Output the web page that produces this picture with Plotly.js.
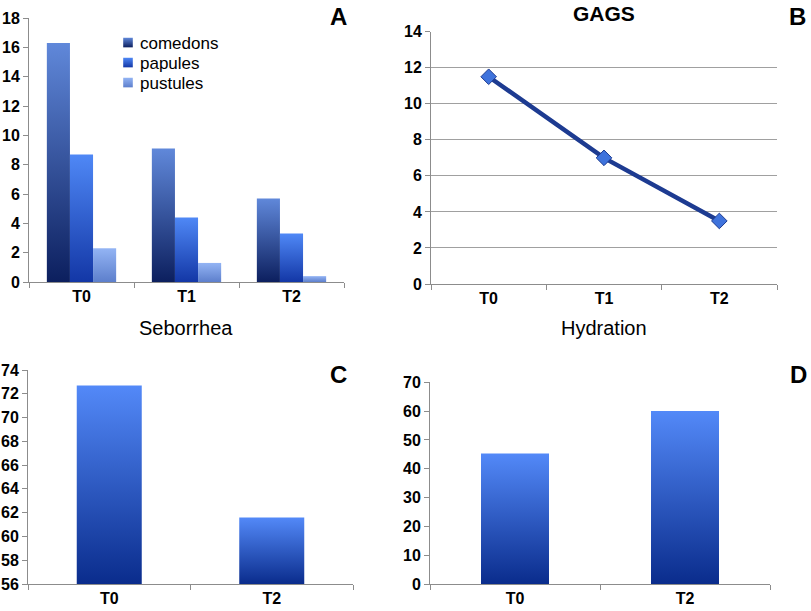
<!DOCTYPE html>
<html>
<head>
<meta charset="utf-8">
<script src="https://cdn.plot.ly/plotly-3.0.1.min.js"></script>
<style>
  html, body { margin: 0; padding: 0; background: #fff; }
  #chart { width: 811px; height: 611px; }
</style>
</head>
<body>
<div id="chart"></div>
<script>
// Panel A - lesions
const timesA = ['T0', 'T1', 'T2'];
const comedons = [16.3, 9.1, 5.7];
const papules = [8.7, 4.4, 3.3];
const pustules = [2.3, 1.3, 0.4];

// Panel B - GAGS
const timesB = ['T0', 'T1', 'T2'];
const gags = [11.5, 7.0, 3.5];

// Panel C - Seborrhea
const timesC = ['T0', 'T2'];
const seborrhea = [72.7, 61.6];

// Panel D - Hydration
const timesD = ['T0', 'T2'];
const hydration = [45.3, 60.0];

// gradients: [bottom, top]
const grads = {
  gCom: ['#0c1f5e', '#6088da'],
  gPap: ['#1337a6', '#4f88f6'],
  gPus: ['#5d7fcc', '#93b4f4'],
  gBar: ['#0a2c8c', '#5389f8']
};

const W = 811, H = 611;
const px = (a, b) => [a / W, b / W];
const py = (top, bottom) => [1 - bottom / H, 1 - top / H];

const FONT = 'Liberation Sans, Arial, sans-serif';
const axisCommon = {
  showline: true, linecolor: '#8c8c8c', linewidth: 1,
  ticks: 'outside', ticklen: 5, tickcolor: '#8c8c8c',
  tickfont: { family: FONT, size: 16, color: '#000', weight: 'bold' },
  zeroline: false, showgrid: false, fixedrange: true
};

const traces = [
  { type: 'bar', x: timesA, y: comedons, name: 'comedons', xaxis: 'x', yaxis: 'y', legend: 'legend',
    marker: { color: grads.gCom[1], line: { width: 0 } }, meta: 'gCom' },
  { type: 'bar', x: timesA, y: papules, name: 'papules', xaxis: 'x', yaxis: 'y', legend: 'legend2',
    marker: { color: grads.gPap[1], line: { width: 0 } }, meta: 'gPap' },
  { type: 'bar', x: timesA, y: pustules, name: 'pustules', xaxis: 'x', yaxis: 'y', legend: 'legend3',
    marker: { color: grads.gPus[1], line: { width: 0 } }, meta: 'gPus' },
  { type: 'scatter', mode: 'lines+markers', x: timesB, y: gags, xaxis: 'x2', yaxis: 'y2',
    showlegend: false,
    line: { color: '#1d3b91', width: 4.5 },
    marker: { symbol: 'diamond', size: 12, color: '#3f73dc', line: { color: '#1d3b91', width: 1 } } },
  { type: 'bar', x: timesC, y: seborrhea, xaxis: 'x3', yaxis: 'y3', width: 0.4, showlegend: false,
    marker: { color: grads.gBar[1], line: { width: 0 } }, meta: 'gBar' },
  { type: 'bar', x: timesD, y: hydration, xaxis: 'x4', yaxis: 'y4', width: 0.4, showlegend: false,
    marker: { color: grads.gBar[1], line: { width: 0 } }, meta: 'gBar' }
];

function legendAt(yMid) {
  return {
    x: 100 / W, xanchor: 'left', y: 1 - yMid / H, yanchor: 'middle',
    bgcolor: 'rgba(0,0,0,0)', borderwidth: 0,
    font: { family: FONT, size: 17, color: '#000' }
  };
}

const layout = {
  width: W, height: H,
  margin: { l: 0, r: 0, t: 0, b: 0 },
  paper_bgcolor: '#fff', plot_bgcolor: 'rgba(0,0,0,0)',
  font: { family: FONT, color: '#000' },
  barmode: 'group', bargap: 0.34, bargroupgap: 0,
  showlegend: true,
  legend: legendAt(43),
  legend2: legendAt(63),
  legend3: legendAt(83),
  xaxis: Object.assign({}, axisCommon, { domain: px(29, 344), anchor: 'y', tickson: 'boundaries' }),
  yaxis: Object.assign({}, axisCommon, { domain: py(18, 282), anchor: 'x', range: [0, 18], dtick: 2 }),
  xaxis2: Object.assign({}, axisCommon, { domain: px(431, 777), anchor: 'y2', tickson: 'boundaries',
    range: [-0.5, 2.5] }),
  yaxis2: Object.assign({}, axisCommon, { domain: py(31.7, 284), anchor: 'x2', range: [0, 14], dtick: 2,
    showgrid: true, gridcolor: '#a0a0a0', gridwidth: 1 }),
  xaxis3: Object.assign({}, axisCommon, { domain: px(28, 353), anchor: 'y3', tickson: 'boundaries' }),
  yaxis3: Object.assign({}, axisCommon, { domain: py(370, 584), anchor: 'x3', range: [56, 74], dtick: 2 }),
  xaxis4: Object.assign({}, axisCommon, { domain: px(430, 770), anchor: 'y4', tickson: 'boundaries' }),
  yaxis4: Object.assign({}, axisCommon, { domain: py(382.3, 584), anchor: 'x4', range: [0, 70], dtick: 10 }),
  annotations: [
    { text: 'A', x: 338 / W, y: 1 - 16 / H },
    { text: 'B', x: 797 / W, y: 1 - 16 / H },
    { text: 'C', x: 338 / W, y: 1 - 374 / H },
    { text: 'D', x: 798 / W, y: 1 - 374 / H }
  ].map(a => Object.assign(a, {
    xref: 'paper', yref: 'paper', showarrow: false, xanchor: 'center', yanchor: 'middle',
    font: { family: FONT, size: 24, color: '#000', weight: 'bold' }
  })).concat([
    { text: 'GAGS', x: 604 / W, y: 1 - 13 / H, xref: 'paper', yref: 'paper', showarrow: false,
      xanchor: 'center', yanchor: 'middle', font: { family: FONT, size: 21, color: '#000', weight: 'bold' } },
    { text: 'Seborrhea', x: 186 / W, y: 1 - 328 / H, xref: 'paper', yref: 'paper', showarrow: false,
      xanchor: 'center', yanchor: 'middle', font: { family: FONT, size: 20, color: '#000' } },
    { text: 'Hydration', x: 604 / W, y: 1 - 328 / H, xref: 'paper', yref: 'paper', showarrow: false,
      xanchor: 'center', yanchor: 'middle', font: { family: FONT, size: 20, color: '#000' } }
  ])
};

const svgNS = 'http://www.w3.org/2000/svg';

function makeGradient(defs, id, cols, user, y1, y2) {
  const lg = document.createElementNS(svgNS, 'linearGradient');
  lg.setAttribute('id', id);
  if (user) {
    lg.setAttribute('gradientUnits', 'userSpaceOnUse');
    lg.setAttribute('x1', 0); lg.setAttribute('x2', 0);
    lg.setAttribute('y1', y1); lg.setAttribute('y2', y2);
  } else {
    lg.setAttribute('x1', '0'); lg.setAttribute('y1', '1');
    lg.setAttribute('x2', '0'); lg.setAttribute('y2', '0');
  }
  [[0, cols[0]], [1, cols[1]]].forEach(function (s) {
    const st = document.createElementNS(svgNS, 'stop');
    st.setAttribute('offset', s[0]);
    st.setAttribute('stop-color', s[1]);
    lg.appendChild(st);
  });
  defs.appendChild(lg);
}

function addGradients(gd) {
  const defs = gd.querySelector('svg.main-svg defs');
  const full = gd._fullLayout;
  let n = 0;
  // bars: gradient from visible bottom of the plot to the top of each bar
  gd.querySelectorAll('g.trace.bars').forEach(function (g) {
    const cd = g.__data__;
    const tr = cd && cd[0] && cd[0].trace;
    if (!tr || !tr.meta) return;
    const ya = full['yaxis' + tr.yaxis.slice(1)];
    g.querySelectorAll('path').forEach(function (p) {
      const bb = p.getBBox();
      const bottom = Math.min(bb.y + bb.height, ya._length);
      const id = 'bg' + (n++);
      makeGradient(defs, id, grads[tr.meta], true, bottom, bb.y);
      p.style.fill = 'url(#' + id + ')';
    });
  });
  // legend swatches (all three legends)
  Object.keys(grads).forEach(function (k) { makeGradient(defs, k, grads[k], false); });
  gd.querySelectorAll('.infolayer g.traces').forEach(function (g) {
    const d = g.__data__;
    const tr = d && d[0] && d[0].trace;
    if (tr && tr.meta) {
      g.querySelectorAll('.legendpoints path').forEach(function (p) {
        p.style.fill = 'url(#' + tr.meta + ')';
        p.setAttribute('transform', 'translate(28,0) scale(0.8)');
      });
    }
  });
}

Plotly.newPlot('chart', traces, layout, { staticPlot: true, displayModeBar: false })
  .then(addGradients);
</script>
</body>
</html>
